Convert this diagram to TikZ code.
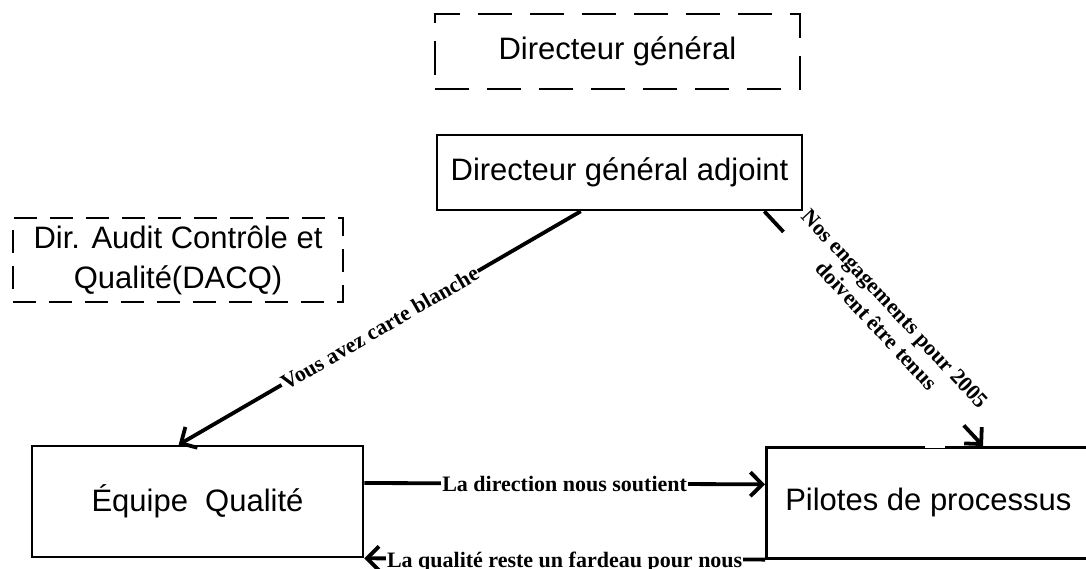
\documentclass[tikz,border=0pt]{standalone}
\usepackage{fontspec}
\setmainfont{Liberation Sans}
\newfontfamily\lblfont{Liberation Serif}
\usetikzlibrary{arrows.meta}
\begin{document}
\begin{tikzpicture}[x=1pt,y=-1pt,
  box/.style={draw, line width=2.6pt, inner sep=0pt, font=\fontsize{31}{40}\selectfont, align=center},
  dbox/.style={box, dash pattern=on 34pt off 18pt},
  dboxs/.style={box, dash pattern=on 23pt off 13pt},
  pbox/.style={draw, line width=2.6pt, inner sep=0pt, font=\fontsize{31}{40}\selectfont},
  conn/.style={line width=3.8pt, -{Straight Barb[length=12pt,width=24pt]}},
  lbl/.style={font=\lblfont\bfseries\fontsize{22}{25}\selectfont, fill=white, inner sep=1pt},
]
\useasboundingbox (0,0) rectangle (1086,568);

\node[dbox, minimum width=365pt, minimum height=75pt] (dg) at (617.5,51.5) {Directeur général};
\node[box, minimum width=365pt, minimum height=75pt] (dga) at (619.5,172.5) {Directeur général adjoint};
\node[dboxs, minimum width=330pt, minimum height=84pt] (dacq) at (178,260) {Dir. Audit Contrôle et\\Qualité(DACQ)};
\node[box, minimum width=331pt, minimum height=111pt] (eq) at (197.5,501.5) {Équipe\ \ Qualité};
\node[pbox, anchor=north west, minimum width=345pt, minimum height=111pt] (pil) at (765,446) {Pilotes de processus\kern21pt};
\draw[white, line width=4pt] ([xshift=160pt]pil.north west) -- ([xshift=180pt]pil.north west);

\draw[conn] ([xshift=145pt]dga.south west) -- node[lbl, sloped, midway] {Vous avez carte blanche} ([xshift=148pt]eq.north west);
\draw[conn] ([xshift=-39pt]dga.south east) -- node[lbl, sloped, pos=0.5, above=-6pt, align=center] {Nos engagements pour 2005\\doivent être tenus} ([xshift=218pt]pil.north west);
\draw[conn] ([yshift=18.5pt]eq.east) -- node[lbl, midway] {La direction nous soutient} ([yshift=18.5pt]pil.west);
\draw[conn] (pil.south west) -- node[lbl, midway, yshift=-3pt] {La qualité reste un fardeau pour nous} (eq.south east);
\end{tikzpicture}
\end{document}
